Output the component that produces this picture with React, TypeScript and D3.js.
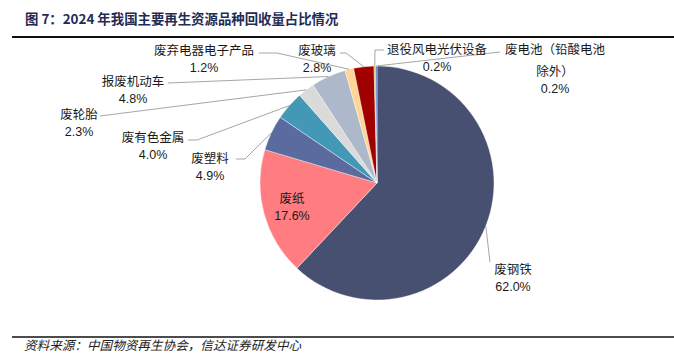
import React from "react";
import * as d3 from "d3";

const categories = [
  "废钢铁",
  "废纸",
  "废塑料",
  "废有色金属",
  "废轮胎",
  "报废机动车",
  "废弃电器电子产品",
  "废玻璃",
  "退役风电光伏设备",
  "废电池（铅酸电池除外）",
];
const shares = [62.0, 17.6, 4.9, 4.0, 2.3, 4.8, 1.2, 2.8, 0.2, 0.2];
const colors = [
  "#475070",
  "#FF7C80",
  "#5B6A9F",
  "#4399B5",
  "#DADADA",
  "#ADB9CB",
  "#FFD596",
  "#A00000",
  "#E3B04B",
  "#4472C4",
];

const titleText = "图 7：2024 年我国主要再生资源品种回收量占比情况";
const sourceText = "资料来源：中国物资再生协会，信达证券研发中心";

// label layout: name lines, position of first line centre, leader route (from label side)
type Lay = { lines: string[]; x: number; y: number; leader: [number, number][] | null };
const layout: Lay[] = [
  { lines: ["废钢铁"], x: 513, y: 268, leader: [[490, 262]] },
  { lines: ["废纸"], x: 292, y: 197, leader: null },
  { lines: ["废塑料"], x: 210, y: 157, leader: [[236, 159], [245, 159]] },
  { lines: ["废有色金属"], x: 153, y: 136, leader: [[188, 140], [197, 140]] },
  { lines: ["废轮胎"], x: 79, y: 113, leader: [[100, 116]] },
  { lines: ["报废机动车"], x: 133, y: 80, leader: [[168, 83]] },
  { lines: ["废弃电器电子产品"], x: 204, y: 49, leader: [[259, 53], [277, 53]] },
  { lines: ["废玻璃"], x: 317, y: 49, leader: [[340, 53], [346, 53]] },
  { lines: ["退役风电光伏设备"], x: 437, y: 48, leader: [[384, 50], [375, 50]] },
  { lines: ["废电池（铅酸电池", "除外）"], x: 555, y: 48, leader: [[500, 52]] },
];

const W = 674;
const H = 356;
const cx = 377;
const cy = 183;
const R = 117;

export default function App() {
  const pie = d3
    .pie<number>()
    .sort(null)
    .value((d) => d)
    .startAngle(0)
    .endAngle(2 * Math.PI);
  const arcs = pie(shares);
  const arc = d3.arc<d3.PieArcDatum<number>>().innerRadius(0).outerRadius(R);
  const lineGen = d3.line();

  const cjk = "'Noto Sans CJK SC', 'Noto Sans', sans-serif";
  const latin = "'Liberation Sans', Arial, sans-serif";

  return (
    <svg
      width={W}
      height={H}
      style={{ position: "absolute", left: 0, top: 0, background: "#fff" }}
    >
      <text
        x={25}
        y={24}
        fontFamily={cjk}
        fontWeight="bold"
        fontSize={13.4}
        fill="#1F2C54"
      >
        {titleText}
      </text>
      <line x1={12} x2={674} y1={37} y2={37} stroke="#111" strokeWidth={2} />

      <g transform={`translate(${cx},${cy})`}>
        {arcs.map((a, i) => (
          <path key={i} d={arc(a) || ""} fill={colors[i]} stroke="#fff" strokeWidth={0.4} />
        ))}
      </g>

      {arcs.map((a, i) => {
        const lay = layout[i];
        if (!lay.leader) return null;
        const mid = (a.startAngle + a.endAngle) / 2;
        const px = cx + R * Math.sin(mid);
        const py = cy - R * Math.cos(mid);
        const pts: [number, number][] = [...lay.leader, [px, py]];
        return (
          <path
            key={"l" + i}
            d={lineGen(pts) || ""}
            fill="none"
            stroke="#A6A6A6"
            strokeWidth={1}
          />
        );
      })}

      {arcs.map((a, i) => {
        const lay = layout[i];
        const lh = 19;
        const n = lay.lines.length;
        return (
          <g key={"t" + i}>
            {lay.lines.map((ln, k) => (
              <text
                key={k}
                x={lay.x}
                y={lay.y + k * 22}
                textAnchor="middle"
                dominantBaseline="central"
                fontFamily={cjk}
                fontSize={12.5}
                fill="#1a1a1a"
              >
                {ln}
              </text>
            ))}
            <text
              x={lay.x}
              y={lay.y + (n - 1) * 22 + lh}
              textAnchor="middle"
              dominantBaseline="central"
              fontFamily={latin}
              fontSize={12.5}
              fill="#1a1a1a"
            >
              {d3.format(".1f")(shares[i]) + "%"}
            </text>
          </g>
        );
      })}

      <line x1={12} x2={674} y1={337} y2={337} stroke="#111" strokeWidth={1.5} />
      <text
        x={24}
        y={350}
        fontFamily={cjk}
        fontStyle="italic"
        fontSize={12.6}
        fill="#222"
      >
        {sourceText}
      </text>
    </svg>
  );
}
